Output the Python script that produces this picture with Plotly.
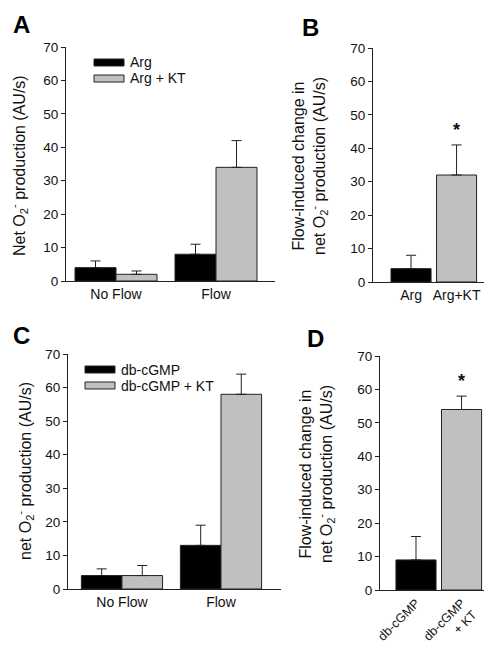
import plotly.graph_objects as go

# ---- data ----
groups_AC = ["No Flow", "Flow"]
argA = [4, 8]
argA_err = [2, 3]
argKT_A = [2, 34]
argKT_A_err = [1, 8]

catsB = ["Arg", "Arg+KT"]
valsB = [4, 32]
errB = [4, 9]

cgmpC = [4, 13]
cgmpC_err = [2, 6]
cgmpKT_C = [4, 58]
cgmpKT_C_err = [3, 6]

catsD = ["db-cGMP", "db-cGMP<br>+ KT"]
valsD = [9, 54]
errD = [7, 4]

BLACK = "#000000"
GRAY = "#c0c0c0"
FONT = "Liberation Sans, Arial, sans-serif"
W, H = 492, 648

fig = go.Figure()


def px(x):
    return x / W


def py(y):
    return 1 - y / H


def bar(xaxis, yaxis, x, y, err, color, offset, width):
    fig.add_trace(go.Bar(
        x=list(range(len(x))), y=y, xaxis=xaxis, yaxis=yaxis,
        marker=dict(color=color, line=dict(color="#222222", width=1)),
        offset=offset, width=width,
        error_y=dict(type="data", array=err, arrayminus=[0] * len(err),
                     symmetric=False, color="#222222", thickness=1, width=5),
        showlegend=False,
    ))


# Panel A
bar("x", "y", groups_AC, argA, argA_err, BLACK, -0.41, 0.41)
bar("x", "y", groups_AC, argKT_A, argKT_A_err, GRAY, 0.0, 0.41)
# Panel B
bar("x2", "y2", catsB, valsB, errB, [BLACK, GRAY], -0.44, 0.88)
# Panel C
bar("x3", "y3", groups_AC, cgmpC, cgmpC_err, BLACK, -0.41, 0.41)
bar("x3", "y3", groups_AC, cgmpKT_C, cgmpKT_C_err, GRAY, 0.0, 0.41)
# Panel D
bar("x4", "y4", catsD, valsD, errD, [BLACK, GRAY], -0.44, 0.88)

yax = dict(range=[0, 70], tickvals=[0, 10, 20, 30, 40, 50, 60, 70],
           showgrid=False, zeroline=False, showline=True, linecolor="#222222",
           linewidth=1, ticks="outside", ticklen=4, tickcolor="#222222",
           tickfont=dict(family=FONT, size=13.5, color="#111111"), fixedrange=True,
           automargin=False)
xax = dict(showgrid=False, zeroline=False, showline=True, linecolor="#222222",
           linewidth=1, ticks="", tickfont=dict(family=FONT, size=14, color="#111111"),
           fixedrange=True, automargin=False)

fig.update_layout(
    template="none",
    width=W, height=H, margin=dict(l=0, r=0, t=0, b=0, pad=0),
    paper_bgcolor="white", plot_bgcolor="white", barmode="overlay",
    font=dict(family=FONT, color="#111111"),
    xaxis=dict(xax, domain=[px(58), px(267)], range=[-0.5, 1.59],
               tickvals=[0, 1], ticktext=groups_AC, anchor="y"),
    yaxis=dict(yax, domain=[py(273), py(39)], anchor="x"),
    xaxis2=dict(xax, domain=[px(365), px(490)], range=[-0.835, 1.91],
                tickvals=[0, 1], ticktext=catsB, anchor="y2"),
    yaxis2=dict(yax, domain=[py(274), py(40)], anchor="x2"),
    xaxis3=dict(xax, domain=[px(60), px(273)], range=[-0.545, 1.606],
                tickvals=[0, 1], ticktext=groups_AC, anchor="y3"),
    yaxis3=dict(yax, domain=[py(581), py(346)], anchor="x3"),
    xaxis4=dict(xax, domain=[px(372), px(490)], range=[-0.79, 1.80],
                tickvals=[0, 1], ticktext=catsD, tickangle=-45, anchor="y4",
                tickfont=dict(family=FONT, size=12.5, color="#111111")),
    yaxis4=dict(yax, domain=[py(582), py(348)], anchor="x4"),
)

ann = []
# panel letters
for letter, x, y in [("A", 3, 1), ("B", 292, 4), ("C", 3, 312), ("D", 297, 315)]:
    ann.append(dict(text="<b>%s</b>" % letter, x=px(x), y=py(y), xref="paper", yref="paper",
                    xanchor="left", yanchor="top", showarrow=False,
                    font=dict(family=FONT, size=24, color="#000000")))

# y-axis titles
title_font = dict(family=FONT, size=16, color="#111111")
for text, x, y in [
    ("Net O<sub>2</sub><sup>-</sup> production (AU/s)", 11, 158),
    ("net O<sub>2</sub><sup>-</sup> production (AU/s)", 17, 463),
    ("Flow-induced change in<br>net O<sub>2</sub><sup>-</sup> production (AU/s)", 302, 158),
    ("Flow-induced change in<br>net O<sub>2</sub><sup>-</sup> production (AU/s)", 309, 466),
]:
    ann.append(dict(text=text, x=px(x), y=py(y), xref="paper", yref="paper",
                    xanchor="center", yanchor="middle", textangle=-90,
                    showarrow=False, font=title_font))

# significance stars
ann.append(dict(text="<b>*</b>", x=1, y=valsB[1] + errB[1] + 1.0, xref="x2", yref="y2",
                showarrow=False, yanchor="bottom", font=dict(family=FONT, size=18)))
ann.append(dict(text="<b>*</b>", x=1, y=valsD[1] + errD[1] + 1.0, xref="x4", yref="y4",
                showarrow=False, yanchor="bottom", font=dict(family=FONT, size=18)))

# legends (drawn manually)
shapes = []
legend_items = [
    (86, 51, BLACK, "Arg"), (86, 67, GRAY, "Arg + KT"),
    (77, 358, BLACK, "db-cGMP"), (77, 374, GRAY, "db-cGMP + KT"),
]
for x0, y0, col, label in legend_items:
    shapes.append(dict(type="rect", xref="paper", yref="paper",
                       x0=px(x0), x1=px(x0 + 30), y0=py(y0), y1=py(y0 + 7),
                       fillcolor=col, line=dict(color="#222222", width=1)))
    ann.append(dict(text=label, x=px(x0 + 34), y=py(y0 + 3.5), xref="paper", yref="paper",
                    xanchor="left", yanchor="middle", showarrow=False,
                    font=dict(family=FONT, size=14, color="#111111")))

fig.update_layout(annotations=ann, shapes=shapes)
fig.write_html("out.html")
